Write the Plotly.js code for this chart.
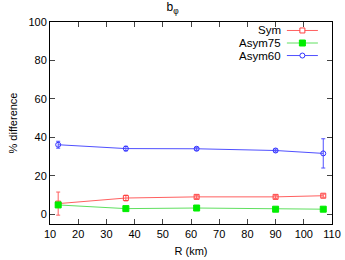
<!DOCTYPE html>
<html><head><meta charset="utf-8">
<script src="https://cdn.plot.ly/plotly-3.0.1.min.js"></script>
<style>html,body{margin:0;padding:0;background:#fff}#c{width:345px;height:260px}</style>
</head><body><div id="c"></div>
<script>
const R = [12.9, 36.9, 62, 90, 106.9];
const symVals = [5.6, 8.5, 9.1, 9.1, 9.7];
const symErr = [6, 1.5, 0.8, 0.8, 0.8];
const asym75Vals = [4.9, 3.0, 3.3, 2.7, 2.7];
const asym75Err = [1, 0.5, 0.5, 0.5, 0.5];
const asym60Vals = [36.2, 34.2, 34.1, 33.2, 31.7];
const asym60Err = [1.8, 1.2, 0.8, 0.8, 7.6];
const names = ['Sym', 'Asym75', 'Asym60'];
const lineColors = ['#ff6060', '#60e060', '#5050ff'];
const markColors = ['#ff4040', '#00ee00', '#3030ff'];
const symbols = ['square-open', 'square', 'circle-open'];
const sizes = [5, 6, 5];

function tr(i, y, err) {
  return {
    x: R, y: y, name: names[i], type: 'scatter', mode: 'lines+markers', showlegend: false,
    line: {color: lineColors[i], width: 1},
    marker: {symbol: symbols[i], size: sizes[i], color: markColors[i], line: {color: markColors[i], width: 1}},
    error_y: {type: 'data', array: err, visible: true, color: lineColors[i], thickness: 1, width: 2}
  };
}
const data = [tr(0, symVals, symErr), tr(1, asym75Vals, asym75Err), tr(2, asym60Vals, asym60Err)];

// gnuplot-style key: text right-aligned, then a sample line with its marker
const keyRows = [0.958, 0.896, 0.834];
const annotations = [], shapes = [];
names.forEach((n, i) => {
  annotations.push({xref: 'paper', yref: 'paper', x: 0.823, y: keyRows[i], xanchor: 'right', yanchor: 'middle',
    text: n, showarrow: false, borderpad: 0, font: {size: 11.5, color: '#000'}});
  shapes.push({type: 'line', xref: 'paper', yref: 'paper', x0: 0.840, x1: 0.950, y0: keyRows[i], y1: keyRows[i],
    line: {color: lineColors[i], width: 1}});
  const h = sizes[i] / 2;
  shapes.push({type: i === 2 ? 'circle' : 'rect', xref: 'paper', yref: 'paper',
    xsizemode: 'pixel', ysizemode: 'pixel', xanchor: 0.895, yanchor: keyRows[i],
    x0: -h, x1: h, y0: -h, y1: h,
    fillcolor: i === 1 ? markColors[i] : '#fff', line: {color: markColors[i], width: 1}});
});

const font = {family: 'Liberation Sans, Arial, sans-serif', size: 11, color: '#000'};
const layout = {
  width: 345, height: 260,
  margin: {l: 50, r: 13, t: 22, b: 36},
  paper_bgcolor: '#fff', plot_bgcolor: '#fff',
  font: font,
  title: {text: 'b<sub>φ</sub>', x: 0.5, xanchor: 'center', y: 0.99, yanchor: 'top', font: {family: font.family, size: 12}},
  xaxis: {range: [10, 110], dtick: 10, tick0: 10, ticks: 'inside', ticklen: 5, mirror: 'ticks',
    showline: true, linecolor: '#000', linewidth: 1, showgrid: false, zeroline: false,
    title: {text: 'R (km)', standoff: 8, font: {size: 11}}},
  yaxis: {range: [-5, 100], tickvals: [0, 20, 40, 60, 80, 100], ticks: 'inside', ticklen: 5, mirror: 'ticks',
    showline: true, linecolor: '#000', linewidth: 1, showgrid: false, zeroline: false,
    title: {text: '% difference', standoff: 8, font: {size: 11}}},
  showlegend: false,
  annotations: annotations,
  shapes: shapes
};
Plotly.newPlot('c', data, layout, {displayModeBar: false, staticPlot: true});
</script></body></html>
